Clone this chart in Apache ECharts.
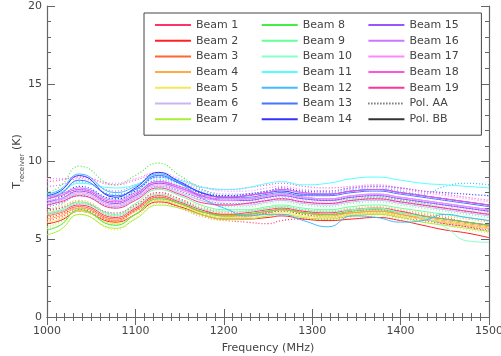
<!DOCTYPE html>
<html>
<head>
<meta charset="utf-8">
<script src="https://cdn.jsdelivr.net/npm/echarts@6/dist/echarts.min.js"></script>
<style>
html,body{margin:0;padding:0;background:#fff}
#chart{width:501px;height:356px}
</style>
</head>
<body>
<div id="chart"></div>
<script>
// frequency samples (MHz), placed near the ripple peaks and dips
const freqs = [1000,1015,1037,1077,1100,1126,1150,1180,1205,1225,1250,1265,1290,1318,1345,1373,1400,1425,1450,1475,1500]
const yTicks = [0,5,10,15,20]
const beamNames = ['Beam 1','Beam 2','Beam 3','Beam 4','Beam 5','Beam 6','Beam 7','Beam 8','Beam 9','Beam 10',
  'Beam 11','Beam 12','Beam 13','Beam 14','Beam 15','Beam 16','Beam 17','Beam 18','Beam 19']
const beamColors = ['#ff3366','#ff2222','#ff6633','#ffaa44','#f2e85a','#c9b8f0','#aaee33','#44ee44','#66ff99','#88ffcc',
  '#55ffff','#44bbff','#4477ff','#3333ff','#9955ff','#cc77ff','#ff88ff','#ff55dd','#ff3399']

// Pol. BB (solid) per beam
const polBB = [
  [6.6,6.8,7.2,6.4,7.0,7.8,7.4,6.8,6.6,6.7,6.9,7.0,6.8,6.7,6.9,7.0,6.8,6.5,6.3,6.1,5.9],
  [6.0,6.2,6.8,6.1,6.6,7.4,7.1,6.5,6.3,6.3,6.4,6.5,6.3,6.2,6.3,6.4,6.2,5.9,5.6,5.4,5.1],
  [6.5,6.7,7.1,6.3,6.9,7.7,7.3,6.7,6.6,6.6,6.8,6.9,6.7,6.6,6.7,6.8,6.6,6.3,6.1,5.9,5.7],
  [6.3,6.5,7.0,6.2,6.8,7.6,7.3,6.7,6.5,6.6,6.8,6.9,6.7,6.5,6.7,6.8,6.6,6.4,6.2,6.0,5.8],
  [6.1,6.3,6.8,6.0,6.6,7.5,7.2,6.6,6.4,6.4,6.6,6.7,6.5,6.4,6.6,6.7,6.5,6.3,6.1,5.9,5.7],
  [7.3,7.5,7.9,7.1,7.6,8.4,8.0,7.4,7.2,7.2,7.4,7.5,7.3,7.2,7.4,7.5,7.3,7.1,6.9,6.7,6.5],
  [5.3,5.6,6.6,5.7,6.3,7.2,7.0,6.5,6.3,6.3,6.5,6.6,6.4,6.3,6.5,6.6,6.4,6.1,5.9,5.7,5.5],
  [5.6,5.9,6.9,5.9,6.6,7.6,7.3,6.7,6.5,6.6,6.8,6.9,6.7,6.6,6.8,6.9,6.7,6.5,6.3,6.1,5.9],
  [6.7,6.9,7.4,6.6,7.3,8.2,7.8,7.1,6.9,6.9,7.1,7.2,7.0,6.9,7.1,7.2,7.0,6.8,6.6,6.4,6.2],
  [6.6,6.8,7.3,6.5,7.1,7.9,7.5,6.9,6.8,6.8,7.0,7.1,6.9,6.8,6.9,7.0,6.7,6.4,5.8,4.9,4.8],
  [7.8,8.0,8.6,8.3,8.5,9.1,8.8,8.3,8.2,8.3,8.6,8.7,8.5,8.6,8.9,9.0,8.8,8.6,8.5,8.4,8.3],
  [7.9,8.2,9.2,8.0,8.4,9.2,8.6,7.5,6.9,6.5,6.6,6.6,6.2,5.8,6.5,6.4,6.1,6.2,6.6,6.4,6.2],
  [7.6,7.9,8.8,7.8,8.2,9.1,8.6,7.9,7.7,7.7,7.9,8.0,7.8,7.8,8.0,8.1,7.9,7.7,7.5,7.3,7.1],
  [7.8,8.1,9.1,7.7,8.3,9.3,8.7,7.9,7.7,7.8,8.0,8.1,7.9,7.9,8.1,8.2,8.0,7.8,7.6,7.4,7.2],
  [7.4,7.6,8.1,7.3,7.8,8.6,8.3,7.7,7.5,7.5,7.7,7.8,7.6,7.5,7.7,7.8,7.6,7.4,7.2,7.0,6.8],
  [7.7,7.9,8.3,7.5,8.0,8.7,8.3,7.7,7.6,7.6,7.8,7.9,7.7,7.6,7.8,7.9,7.7,7.5,7.3,7.1,6.9],
  [7.5,7.6,8.0,7.2,7.7,8.5,8.2,7.6,7.5,7.6,7.8,7.9,7.7,7.6,7.8,7.9,7.7,7.5,7.3,7.1,6.9],
  [7.6,7.8,8.2,7.4,7.9,8.7,8.4,7.8,7.7,7.8,8.0,8.2,8.0,7.9,8.1,8.2,8.0,7.8,7.6,7.4,7.2],
  [7.2,7.4,7.8,7.0,7.5,8.3,7.9,7.3,7.2,7.3,7.5,7.6,7.4,7.3,7.5,7.6,7.4,7.2,7.0,6.8,6.6]
]
// Pol. AA (dotted) per beam
const polAA = [
  [6.2,6.4,6.9,6.2,6.8,7.5,7.0,6.4,6.2,6.1,6.0,6.2,6.3,6.3,6.5,6.6,6.4,6.2,6.0,5.8,5.6],
  [6.4,6.6,7.0,6.2,6.9,7.7,7.3,6.7,6.5,6.5,6.7,6.8,6.6,6.4,6.6,6.7,6.5,6.3,6.0,5.8,5.5],
  [6.8,7.0,7.4,6.5,7.1,7.9,7.5,6.9,6.7,6.8,7.0,7.1,6.9,6.8,6.9,7.0,6.8,6.6,6.4,6.1,5.9],
  [6.9,7.1,7.5,6.6,7.2,8.0,7.6,7.0,6.8,6.8,7.0,7.1,6.9,6.8,7.0,7.1,6.9,6.7,6.5,6.3,6.1],
  [5.7,5.9,6.6,5.6,6.4,7.3,7.0,6.4,6.2,6.3,6.5,6.6,6.4,6.2,6.4,6.5,6.3,6.1,5.9,5.6,5.4],
  [7.6,7.8,8.2,7.3,7.8,8.6,8.2,7.6,7.4,7.4,7.6,7.7,7.5,7.4,7.6,7.7,7.5,7.3,7.1,6.9,6.7],
  [5.8,6.1,6.8,5.9,6.6,7.5,7.2,6.6,6.4,6.5,6.7,6.8,6.6,6.5,6.6,6.7,6.5,6.3,6.1,5.9,5.7],
  [8.0,8.4,9.7,8.5,9.1,9.9,9.1,8.1,7.7,7.6,7.8,7.9,7.7,7.5,7.6,7.7,7.5,7.3,7.0,6.8,6.6],
  [6.9,7.2,7.9,7.0,7.7,8.6,8.1,7.4,7.1,7.1,7.3,7.4,7.2,7.1,7.3,7.4,7.2,7.0,6.8,6.6,6.4],
  [7.3,7.5,8.0,7.2,7.8,8.6,8.2,7.5,7.3,7.3,7.5,7.6,7.4,7.3,7.5,7.6,7.4,7.2,7.0,6.8,6.6],
  [7.5,7.7,8.3,7.6,8.1,8.9,8.5,7.8,7.6,7.6,7.8,7.9,7.7,7.6,7.8,7.9,7.7,7.5,7.3,7.1,6.9],
  [7.7,8.0,8.7,7.9,8.2,9.0,8.6,8.0,7.8,7.9,8.1,8.2,8.0,8.0,8.2,8.3,8.1,7.9,8.4,8.6,8.5],
  [7.2,7.5,8.2,7.4,7.9,8.8,8.4,7.7,7.5,7.5,7.7,7.8,7.6,7.5,7.7,7.8,7.6,7.4,7.2,7.0,6.8],
  [7.4,7.7,8.4,7.6,8.1,9.0,8.6,7.9,7.8,7.9,8.1,8.3,8.1,8.1,8.3,8.4,8.3,8.1,8.0,7.9,7.8],
  [7.1,7.3,7.8,7.1,7.6,8.4,8.1,7.5,7.3,7.3,7.5,7.6,7.4,7.3,7.5,7.6,7.4,7.2,7.0,6.8,6.6],
  [8.4,8.5,8.9,8.1,8.5,9.1,8.7,8.1,7.9,7.9,8.1,8.2,8.0,7.9,8.1,8.2,8.0,7.8,7.6,7.4,7.2],
  [8.9,8.9,9.0,8.6,8.9,9.3,8.9,8.3,8.1,8.1,8.3,8.4,8.2,8.1,8.3,8.4,8.2,8.0,7.8,7.6,7.4],
  [8.7,8.8,9.0,8.5,8.8,9.2,8.8,8.3,8.2,8.3,8.5,8.6,8.4,8.3,8.4,8.5,8.3,8.1,7.9,7.7,7.5],
  [6.9,7.0,7.3,6.7,7.2,8.0,7.6,6.8,6.5,6.5,6.7,6.9,6.8,6.6,6.8,6.9,6.7,6.5,6.3,6.1,5.9]
]

const font = 'DejaVu Sans'
const txt = '#444'
const axCol = '#666'

const series = []
beamNames.forEach((name, i) => {
  series.push({
    name, type: 'line', symbol: 'none', smooth: 0.5, z: 3,
    data: freqs.map((f, k) => [f, polBB[i][k]]),
    lineStyle: { color: beamColors[i], width: 1 },
    itemStyle: { color: beamColors[i] }
  })
  series.push({
    name, type: 'line', symbol: 'none', smooth: 0.5, z: 2,
    data: freqs.map((f, k) => [f, polAA[i][k]]),
    lineStyle: { color: beamColors[i], width: 1.2, type: [1, 2] },
    itemStyle: { color: beamColors[i] }
  })
})
series.push({ name: 'Pol. AA', type: 'line', symbol: 'none', data: [], lineStyle: { color: '#333', width: 1, type: [1, 2] }, itemStyle: { color: '#333' } })
series.push({ name: 'Pol. BB', type: 'line', symbol: 'none', data: [], lineStyle: { color: '#333', width: 1 }, itemStyle: { color: '#333' } })

const legendData = [
  ...beamNames.slice(0, 7), '',
  ...beamNames.slice(7, 14), '\n',
  ...beamNames.slice(14), 'Pol. AA', 'Pol. BB'
]

const tickStyle = { inside: true, length: 8, lineStyle: { color: axCol } }
const axisLine = { lineStyle: { color: axCol, width: 1.2 } }
const labelStyle = { fontFamily: font, fontSize: 11, color: txt }

const myChart = echarts.init(document.getElementById('chart'))
const option = {
  animation: false,
  backgroundColor: '#fff',
  textStyle: { fontFamily: font },
  grid: { left: 47, right: 12, top: 6, bottom: 39, containLabel: false, outerBoundsMode: 'none' },
  legend: {
    data: legendData,
    orient: 'vertical',
    left: 144, top: 13,
    padding: [5, 9, 9, 10],
    borderColor: '#444', borderWidth: 1,
    itemWidth: 36, itemHeight: 14, itemGap: 1.7,
    selectedMode: false,
    itemStyle: { opacity: 0 },
    textStyle: { fontFamily: font, fontSize: 11, color: txt, lineHeight: 14, width: 63, overflow: 'truncate' }
  },
  xAxis: [
    {
      type: 'value', min: 1000, max: 1500, interval: 100,
      name: 'Frequency (MHz)', nameLocation: 'middle', nameGap: 26, nameMoveOverlap: false,
      nameTextStyle: labelStyle,
      axisLine, axisTick: tickStyle, splitLine: { show: false },
      minorTick: { show: true, splitNumber: 10, length: 4, lineStyle: { color: axCol } },
      axisLabel: Object.assign({ margin: 9, formatter: v => String(v) }, labelStyle)
    },
    {
      type: 'value', min: 1000, max: 1500, interval: 100, position: 'top',
      axisLine, axisTick: tickStyle, splitLine: { show: false },
      minorTick: { show: true, splitNumber: 10, length: 4, lineStyle: { color: axCol } },
      axisLabel: { show: false }
    }
  ],
  yAxis: [
    {
      type: 'value', min: yTicks[0], max: yTicks[yTicks.length - 1], interval: 5,
      name: '{a|T}{b|receiver}{a| (K)}', nameLocation: 'middle', nameGap: 21, nameRotate: 90, nameMoveOverlap: false,
      nameTextStyle: {
        fontFamily: font, color: txt,
        rich: {
          a: { fontFamily: font, fontSize: 11, color: txt, lineHeight: 18, verticalAlign: 'middle' },
          b: { fontFamily: font, fontSize: 7, color: txt, lineHeight: 18, verticalAlign: 'bottom' }
        }
      },
      axisLine, axisTick: tickStyle, splitLine: { show: false },
      minorTick: { show: true, splitNumber: 5, length: 4, lineStyle: { color: axCol } },
      axisLabel: Object.assign({ margin: 5 }, labelStyle)
    },
    {
      type: 'value', min: yTicks[0], max: yTicks[yTicks.length - 1], interval: 5, position: 'right',
      axisLine, axisTick: tickStyle, splitLine: { show: false },
      minorTick: { show: true, splitNumber: 5, length: 4, lineStyle: { color: axCol } },
      axisLabel: { show: false }
    }
  ],
  series
}
myChart.setOption(option)
</script>
</body>
</html>
